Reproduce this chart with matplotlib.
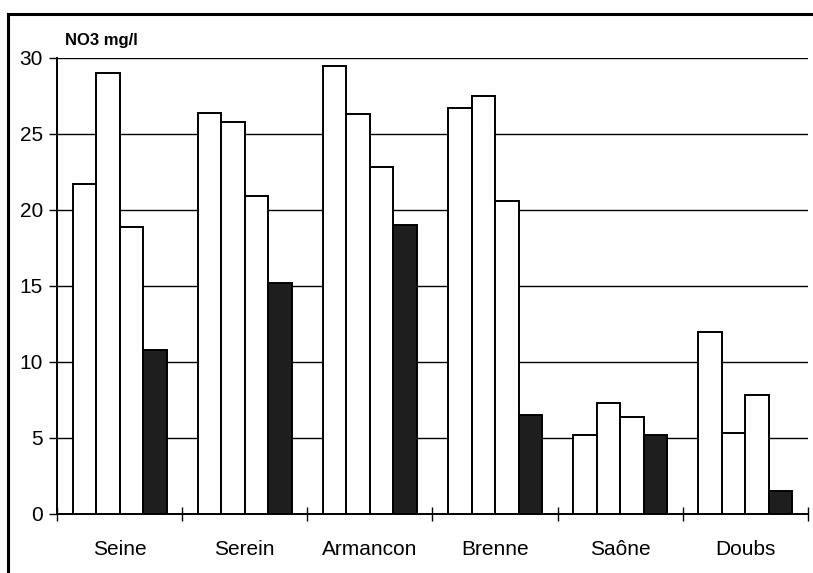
import numpy as np
import matplotlib.pyplot as plt
from matplotlib.lines import Line2D

rivers = ["Seine", "Serein", "Armancon", "Brenne", "Saône", "Doubs"]
s1 = [21.7, 26.4, 29.5, 26.7, 5.2, 12.0]
s2 = [29.0, 25.8, 26.3, 27.5, 7.3, 5.3]
s3 = [18.9, 20.9, 22.8, 20.6, 6.4, 7.8]
s4 = [10.8, 15.2, 19.0, 6.5, 5.2, 1.5]

plt.rcParams['font.family'] = ['Liberation Sans', 'DejaVu Sans']

fig = plt.figure(figsize=(8.13, 5.73), dpi=100)
ax = fig.add_axes([0.0701, 0.1030, 0.9237, 0.7958])

x = np.arange(len(rivers))
w = 0.1875
series = [s1, s2, s3, s4]
colors = ["white", "white", "white", "#1e1e1e"]
for j, (vals, c) in enumerate(zip(series, colors)):
    ax.bar(x + 0.125 + w * (j + 0.5), vals, width=w, color=c,
           edgecolor="black", linewidth=1.4, zorder=3)

for yv in range(5, 31, 5):
    ax.axhline(yv, color="black", linewidth=1.0, zorder=1)

ax.set_xlim(0, 6)
ax.set_ylim(0, 30)
ax.set_yticks(range(0, 31, 5))
ax.set_xticks(range(0, 7))
ax.set_xticklabels([])
ax.set_xticks(x + 0.5, minor=True)
ax.set_xticklabels(rivers, minor=True)
ax.tick_params(axis="x", which="major", direction="inout", length=10, width=1)
ax.tick_params(axis="x", which="minor", length=0, pad=19, labelsize=15)
ax.tick_params(axis="y", direction="out", length=6, width=1, labelsize=15, pad=4)

for s in ["top", "right"]:
    ax.spines[s].set_visible(False)
ax.spines["left"].set_linewidth(1.4)
ax.spines["bottom"].set_linewidth(1.4)

fig.text(0.080, 0.930, "NO3 mg/l", fontsize=12, fontweight="bold", va="center")

# outer frame (left and top)
fig.add_artist(Line2D([0.010, 0.010], [0.0, 0.976], color="black", lw=2.2))
fig.add_artist(Line2D([0.010, 1.0], [0.976, 0.976], color="black", lw=2.2))

fig.savefig("out.png", dpi=100)
